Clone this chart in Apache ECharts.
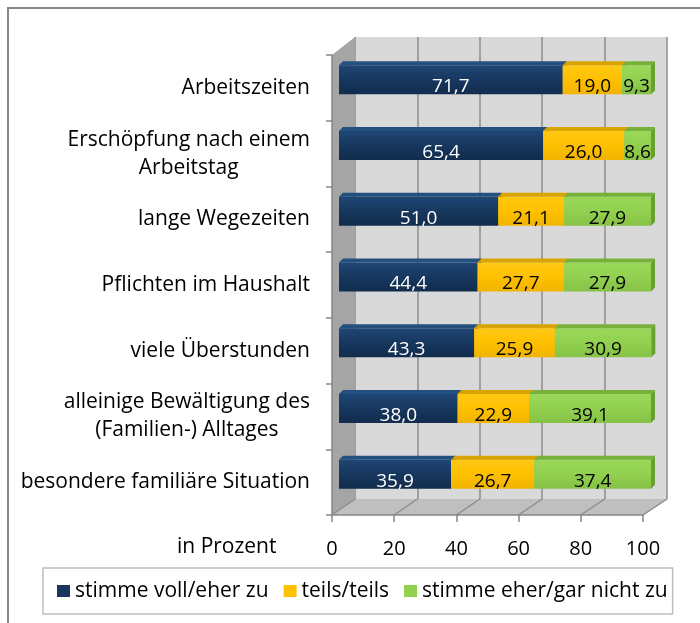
<!DOCTYPE html>
<html>
<head>
    <meta charset="utf-8">
    <title>Belastungen</title>
    <style>
        html, body { margin: 0; padding: 0; background: #fff; }
        #chart { width: 700px; height: 623px; }
    </style>
</head>
<body>
    <div id="chart"></div>
    <script src="https://cdn.jsdelivr.net/npm/echarts@6/dist/echarts.min.js"></script>
    <script>
        // data
        var categories = ['Arbeitszeiten', 'Erschöpfung nach einem\nArbeitstag', 'lange Wegezeiten',
            'Pflichten im Haushalt', 'viele Überstunden', 'alleinige Bewältigung des\n(Familien-) Alltages',
            'besondere familiäre Situation'];
        var seriesNames = ['stimme voll/eher zu', 'teils/teils', 'stimme eher/gar nicht zu'];
        var agree = [71.7, 65.4, 51.0, 44.4, 43.3, 38.0, 35.9];
        var neutral = [19.0, 26.0, 21.1, 27.7, 25.9, 22.9, 26.7];
        var disagree = [9.3, 8.6, 27.9, 27.9, 30.9, 39.1, 37.4];
        var xTicks = [0, 20, 40, 60, 80, 100];

        var FONT = 'Open Sans';
        // box layout: front face, back wall, bar plane
        var FL = 332, FT = 55, FW = 311, FH = 460;
        var BL = 355, BT = 37, BW = 312, BH = 462;
        var PL = 339, PT = 47, PW = 312, PH = 460;

        var faces = [
            { front: ['#1f4675', '#17375e', '#112c4d'], top: '#24507f', side: '#0f2847', text: '#fff' },
            { front: ['#ffc813', '#ffc000', '#f0b400'], top: '#d9a300', side: '#c99700', text: '#000' },
            { front: ['#9ad85a', '#92d050', '#86c246'], top: '#77b13a', side: '#6a9f32', text: '#000' }
        ];

        function vgrad(c) {
            return new echarts.graphic.LinearGradient(0, 0, 0, 1, [
                { offset: 0, color: c[0] }, { offset: 0.5, color: c[1] }, { offset: 1, color: c[2] }
            ]);
        }

        function segData(vals, bases) {
            return vals.map(function (v, i) {
                return [bases[i], i, bases[i] + v, v];
            });
        }
        var base0 = agree.map(function () { return 0; });
        var base1 = agree.slice();
        var base2 = agree.map(function (v, i) { return v + neutral[i]; });
        var segs = [segData(agree, base0), segData(neutral, base1), segData(disagree, base2)];

        function makeRender(k) {
            var f = faces[k];
            return function (params, api) {
                var cat = api.value(1);
                var p0 = api.coord([api.value(0), cat]);
                var p1 = api.coord([api.value(2), cat]);
                var h = 29, dx = 4, dy = -4;
                var x0 = p0[0], x1 = p1[0], y0 = p0[1] - h / 2;
                var label = api.value(3).toFixed(1).replace('.', ',');
                return {
                    type: 'group',
                    children: [
                        { type: 'rect', shape: { x: x0, y: y0, width: x1 - x0, height: h }, style: { fill: vgrad(f.front) } },
                        { type: 'polygon', shape: { points: [[x0, y0], [x1, y0], [x1 + dx, y0 + dy], [x0 + dx, y0 + dy]] }, style: { fill: f.top } },
                        { type: 'polygon', shape: { points: [[x1, y0], [x1 + dx, y0 + dy], [x1 + dx, y0 + h + dy], [x1, y0 + h]] }, style: { fill: f.side } },
                        { type: 'text', style: { text: label, x: (x0 + x1) / 2, y: p0[1] + 7, align: 'center', verticalAlign: 'middle', fill: f.text, fontSize: 19, fontFamily: FONT } }
                    ]
                };
            };
        }

        // floor grid lines and walls of the 3d box
        var boxGraphics = [
            { type: 'polyline', shape: { points: [[8, 623], [8, 8], [700, 8]] }, style: { stroke: '#868686', lineWidth: 2, fill: null }, z: 1 },
            { type: 'polygon', shape: { points: [[FL, FT], [BL, BT], [BL, BT + BH], [FL, FT + FH]] }, style: { fill: '#a5a5a5' }, z: 1 },
            { type: 'polygon', shape: { points: [[FL, FT + FH], [FL + FW, FT + FH], [BL + BW, BT + BH], [BL, BT + BH]] }, style: { fill: '#bfbfbf' }, z: 1 }
        ];
        xTicks.forEach(function (t) {
            boxGraphics.push({
                type: 'line',
                shape: { x1: FL + t / 100 * FW, y1: FT + FH, x2: BL + t / 100 * BW, y2: BT + BH },
                style: { stroke: '#8c8c8c', lineWidth: 1.5 }, z: 1
            });
        });

        var myChart = echarts.init(document.getElementById('chart'));
        var option = {
            animation: false,
            backgroundColor: '#fff',
            title: {
                text: 'in Prozent', left: 177, top: 537, padding: 0,
                textStyle: { fontSize: 21, fontWeight: 'normal', color: '#000', fontFamily: FONT }
            },
            legend: {
                data: seriesNames,
                left: 43, top: 568,
                padding: [10, 5, 10, 14],
                itemGap: 15, itemWidth: 13, itemHeight: 12,
                icon: 'rect',
                borderColor: '#bfbfbf', borderWidth: 1.5,
                textStyle: { fontSize: 21, fontFamily: FONT, color: '#000', lineHeight: 26 }
            },
            graphic: { elements: boxGraphics },
            grid: [
                { left: BL, top: BT, width: BW, height: BH, show: true, backgroundColor: '#d9d9d9', borderWidth: 0 },
                { left: PL, top: PT, width: PW, height: PH },
                { left: FL, top: FT, width: FW, height: FH }
            ],
            xAxis: [
                { gridIndex: 0, type: 'value', min: 0, max: 100, interval: 20, z: 0,
                  axisLine: { show: false }, axisTick: { show: false }, axisLabel: { show: false },
                  splitLine: { show: true, lineStyle: { color: '#8c8c8c', width: 1.5 } } },
                { gridIndex: 1, type: 'value', min: 0, max: 100, show: false },
                { gridIndex: 2, type: 'value', min: 0, max: 100, interval: 20, z: 3,
                  axisLine: { show: true, onZero: false, lineStyle: { color: '#868686', width: 1.5 } },
                  axisTick: { show: true, length: 7, lineStyle: { color: '#868686', width: 1.5 } },
                  axisLabel: { margin: 24, fontSize: 20, color: '#000', fontFamily: FONT },
                  splitLine: { show: false } }
            ],
            yAxis: [
                { gridIndex: 0, type: 'category', data: categories, inverse: true, show: false },
                { gridIndex: 1, type: 'category', data: categories, inverse: true, show: false },
                { gridIndex: 2, type: 'category', data: categories, inverse: true, z: 3,
                  axisLine: { show: true, lineStyle: { color: '#868686', width: 1.5 } },
                  axisTick: { show: true, length: 6, lineStyle: { color: '#868686', width: 1.5 } },
                  axisLabel: {
                      margin: 22, interval: 0,
                      formatter: function (v) {
                          return v.split('\n').map(function (s) { return '{c|' + s + '}'; }).join('\n');
                      },
                      rich: { c: { align: 'center', fontSize: 21, fontFamily: FONT, color: '#000', lineHeight: 28 } }
                  } }
            ],
            series: seriesNames.map(function (name, k) {
                return {
                    name: name,
                    type: 'custom',
                    xAxisIndex: 1, yAxisIndex: 1,
                    z: 5,
                    itemStyle: { color: faces[k].front[1] },
                    encode: { x: [0, 2], y: 1 },
                    renderItem: makeRender(k),
                    data: segs[k]
                };
            })
        };
        myChart.setOption(option);
    </script>
</body>
</html>
